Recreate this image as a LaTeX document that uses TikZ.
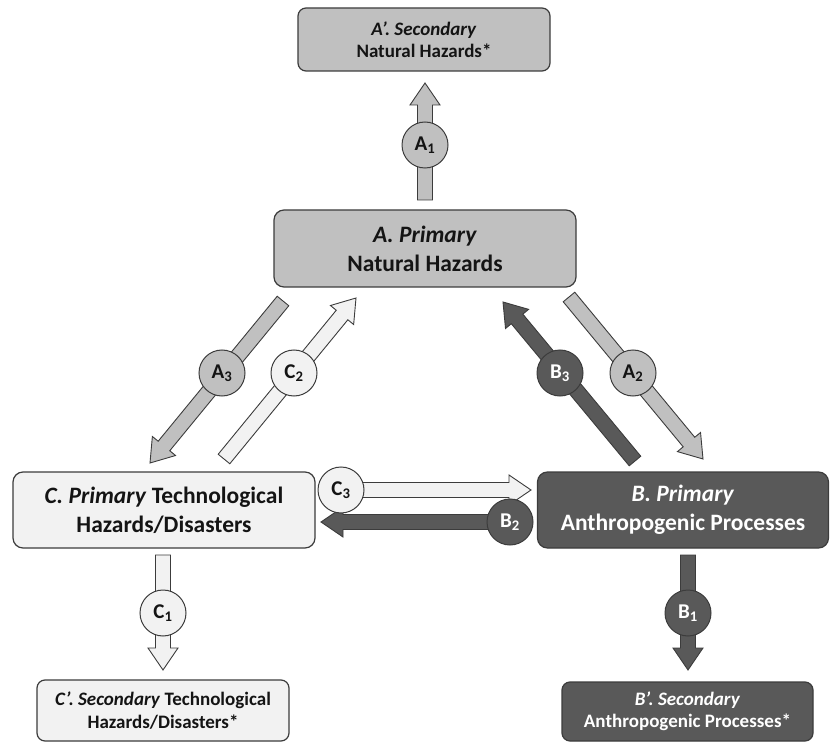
\documentclass[tikz,border=0pt]{standalone}
\usepackage{fontspec}
\setmainfont{Carlito}
\usetikzlibrary{calc}
\definecolor{cA}{HTML}{C0C0C0}
\definecolor{cB}{HTML}{595959}
\definecolor{cC}{HTML}{F2F2F2}
\definecolor{edgec}{HTML}{3C3C3C}
\definecolor{txt}{HTML}{141414}
\newcommand\blockarrow[3]{%
  \coordinate (ba-h) at ($(#2)!22pt!(#1)$);
  \draw[arrowline, fill=#3]
    ($(#1)!7.5pt!90:(#2)$) -- ($(ba-h)!7.5pt!90:(#2)$) -- ($(ba-h)!15pt!90:(#2)$)
    -- (#2) -- ($(ba-h)!15pt!-90:(#2)$) -- ($(ba-h)!7.5pt!-90:(#2)$)
    -- ($(#1)!7.5pt!-90:(#2)$) -- cycle;
}
\begin{document}
\begin{tikzpicture}[x=1pt,y=-1pt,
  arrowline/.style={draw=edgec, line width=0.9pt, line join=miter},
  box/.style={draw=edgec, line width=1.2pt, rounded corners=10pt, align=center, inner sep=0pt, text=txt},
  mainbox/.style={box, font=\fontsize{23.5}{29}\selectfont\bfseries},
  secbox/.style={box, rounded corners=8pt, font=\fontsize{19}{22.5}\selectfont\bfseries},
  lbl/.style={circle, draw=edgec, line width=1pt, minimum size=46pt, inner sep=0pt, text=txt, font=\fontsize{21}{21}\selectfont\bfseries}]
\useasboundingbox (0,0) rectangle (830,743);

% boxes
\node[secbox, fill=cA, minimum width=252pt, minimum height=63pt] (Ap) at (424,39.5) {\textit{A’. Secondary}\\Natural Hazards*};
\node[mainbox, fill=cA, minimum width=302pt, minimum height=77pt] (A) at (425,248.5) {\textit{A. Primary}\\Natural Hazards};
\node[mainbox, fill=cC, minimum width=302pt, minimum height=76pt] (C) at (164,510) {\textit{C. Primary} Technological\\Hazards/Disasters};
\node[mainbox, fill=cB, text=white, minimum width=291pt, minimum height=76pt] (B) at (683,510) {\textit{B. Primary}\\Anthropogenic Processes};
\node[secbox, fill=cC, minimum width=252pt, minimum height=61pt] (Cp) at (163,710.5) {\textit{C’. Secondary} Technological\\Hazards/Disasters*};
\node[secbox, fill=cB, text=white, minimum width=251pt, minimum height=59pt] (Bp) at (687.5,711.5) {\textit{B’. Secondary}\\Anthropogenic Processes*};

% arrow end points
\coordinate (a1s) at (425,200);  \coordinate (a1e) at (425,83);
\coordinate (a3s) at (283,301);  \coordinate (a3e) at (150,463);
\coordinate (c2s) at (224,459);  \coordinate (c2e) at (356,298);
\coordinate (b3s) at (635,461);  \coordinate (b3e) at (503,302);
\coordinate (a2s) at (569,297);  \coordinate (a2e) at (703,459);
\coordinate (c3s) at (322,490);  \coordinate (c3e) at (531,490);
\coordinate (b2s) at (531,522);  \coordinate (b2e) at (321,522);
\coordinate (c1s) at (163,555);  \coordinate (c1e) at (163,670);
\coordinate (b1s) at (688,555);  \coordinate (b1e) at (688,670);

\blockarrow{a1s}{a1e}{cA}
\blockarrow{a3s}{a3e}{cA}
\blockarrow{c2s}{c2e}{cC}
\blockarrow{b3s}{b3e}{cB}
\blockarrow{a2s}{a2e}{cA}
\blockarrow{c3s}{c3e}{cC}
\blockarrow{b2s}{b2e}{cB}
\blockarrow{c1s}{c1e}{cC}
\blockarrow{b1s}{b1e}{cB}

% labels
\node[lbl, fill=cA] (lA1) at (425,145) {A\textsubscript{1}};
\node[lbl, fill=cA] (lA3) at (222,373) {A\textsubscript{3}};
\node[lbl, fill=cC] (lC2) at (294,373) {C\textsubscript{2}};
\node[lbl, fill=cB, text=white] (lB3) at (560,373) {B\textsubscript{3}};
\node[lbl, fill=cA] (lA2) at (633,373) {A\textsubscript{2}};
\node[lbl, fill=cC] (lC3) at (341,490) {C\textsubscript{3}};
\node[lbl, fill=cB, text=white] (lB2) at (510,522) {B\textsubscript{2}};
\node[lbl, fill=cC] (lC1) at (163,613) {C\textsubscript{1}};
\node[lbl, fill=cB, text=white] (lB1) at (688,613) {B\textsubscript{1}};
\end{tikzpicture}
\end{document}
